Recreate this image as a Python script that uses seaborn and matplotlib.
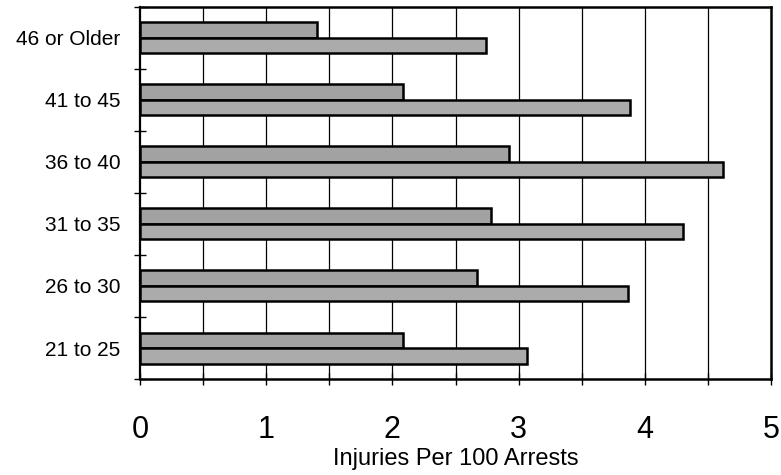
import matplotlib
matplotlib.use("Agg")
import matplotlib.pyplot as plt
import seaborn as sns
import pandas as pd
import numpy as np

age_groups = ["46 or Older", "41 to 45", "36 to 40", "31 to 35", "26 to 30", "21 to 25"]
series_names = ["Group 1", "Group 2"]
group1_rates = [1.40, 2.08, 2.92, 2.78, 2.67, 2.08]
group2_rates = [2.74, 3.88, 4.62, 4.30, 3.87, 3.07]
x_ticks = [0, 1, 2, 3, 4, 5]

df = pd.DataFrame({
    "age": age_groups * 2,
    "series": [series_names[0]] * len(age_groups) + [series_names[1]] * len(age_groups),
    "rate": group1_rates + group2_rates,
})

sns.set_theme(style="white")
plt.rcParams["font.family"] = ["Liberation Sans", "DejaVu Sans"]
plt.rcParams["text.color"] = "black"
plt.rcParams["axes.labelcolor"] = "black"
plt.rcParams["xtick.color"] = "black"
plt.rcParams["ytick.color"] = "black"

fig = plt.figure(figsize=(7.81, 4.75), dpi=100)
ax = fig.add_axes([0.1793, 0.2021, 0.9872 - 0.1793, 0.9853 - 0.2021])

sns.barplot(
    data=df, y="age", x="rate", hue="series", order=age_groups,
    hue_order=series_names, orient="h", width=0.5,
    palette=["#a2a2a2", "#ababab"], edgecolor="black", linewidth=1.8,
    legend=False, ax=ax, zorder=3,
)

ax.set_xlim(0, 5)
ax.set_ylim(5.5, -0.5)
ax.set_xticks(x_ticks)
ax.set_xticks(np.arange(0, 5.01, 0.5), minor=True)
ax.set_xticklabels([str(t) for t in x_ticks], fontsize=22, color="black")
ax.grid(False)
for gx in np.arange(0.5, 5.0, 0.5):
    ax.axvline(gx, color="black", linewidth=0.9, zorder=1)

ax.set_yticks(range(len(age_groups)))
ax.set_yticklabels(age_groups, fontsize=15, color="black")
ax.set_yticks(np.arange(-0.5, 5.6, 1.0), minor=True)

ax.tick_params(axis="x", which="both", direction="inout", length=8, width=1,
               color="black", bottom=True, pad=22)
ax.tick_params(axis="y", which="major", length=0, pad=14)
ax.tick_params(axis="y", which="minor", direction="inout", length=8, width=1,
               color="black", left=True)

for side in ["left", "right", "top", "bottom"]:
    ax.spines[side].set_visible(True)
    ax.spines[side].set_color("black")
ax.spines["left"].set_linewidth(1.6)
ax.spines["bottom"].set_linewidth(1.8)
ax.spines["right"].set_linewidth(1.8)
ax.spines["top"].set_linewidth(1.8)

ax.set_ylabel("")
ax.set_xlabel("Injuries Per 100 Arrests", fontsize=17, labelpad=2, color="black")

fig.savefig("out.png", dpi=100, facecolor="white")
